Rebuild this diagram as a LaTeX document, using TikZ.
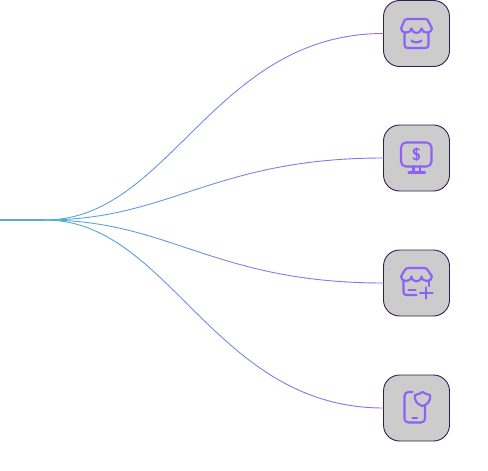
\documentclass[tikz,border=0pt]{standalone}
\usepackage{tikz}
\usetikzlibrary{calc, positioning}
\usepackage{xcolor}
\definecolor{linkA}{RGB}{84, 172, 216}
\definecolor{linkB}{RGB}{145, 112, 240}
\definecolor{iconC}{RGB}{139, 98, 245}
\definecolor{boxF}{RGB}{204, 204, 204}
\definecolor{boxD}{RGB}{48, 30, 84}

\tikzset{
  tilebox/.style={draw=boxD, fill=boxF, line width=0.9pt, rounded corners=16pt,
    minimum size=66pt, inner sep=0pt, outer sep=0pt},
  iconline/.style={draw=iconC, line width=2.1pt, line cap=round, line join=round},
}

\begin{document}
\begin{tikzpicture}[x=1pt, y=-1pt]
  \useasboundingbox (0,0) rectangle (488,471);

  % hub and tiles
  \coordinate (start) at (0,220);
  \coordinate (hub) at (45,220);
  \node[tilebox] (shop) at (416.5,33.5) {};
  \node[tilebox] (screen) at (416.5,158) {};
  \node[tilebox] (store) at (416.5,283) {};
  \node[tilebox] (phone) at (416.5,408) {};

  % links, blue to purple in vertical bands
  \draw[linkA, line width=1.5pt] (start) -- (hub);
  \foreach \t in {shop,screen,store,phone} {
    \foreach \b in {0,1,...,16} {
      \pgfmathsetmacro{\mixval}{min(100,\b*6.5)}
      \begin{scope}
        \clip (45+\b*20,0) rectangle (45.6+\b*20+20,471);
        \draw[linkB!\mixval!linkA, line width=0.9pt] (hub)
          .. controls ($(hub)+(125,0)$) and ($(\t.west)+(-170,0)$) .. (\t.west);
      \end{scope}
    }
  }

  % shop icon
  \begin{scope}[shift={(shop.center)}]
    \draw[iconline] (-9,-14.5) -- (8.5,-14.5)
      .. controls (10.5,-14.5) and (11.5,-13.5) .. (12,-12) -- (15.5,-5)
      .. controls (15.5,0) and (6,1) .. (5,-5)
      .. controls (4,1) and (-4,1) .. (-5,-5)
      .. controls (-6,1) and (-15.5,0) .. (-15.5,-5) -- (-12.5,-12)
      .. controls (-12,-13.5) and (-11,-14.5) .. (-9,-14.5) -- cycle;
    \draw[iconline] (-12,-1) -- (-12,11) .. controls (-12,13.5) and (-11,14.5) .. (-9,14.5)
      -- (9,14.5) .. controls (11,14.5) and (12,13.5) .. (12,11) -- (12,-1);
    \draw[iconline] (-5,7) .. controls (-3,9.5) and (3,9.5) .. (5,7);
  \end{scope}

  % screen icon
  \begin{scope}[shift={(screen.center)}]
    \draw[iconline, rounded corners=5pt] (-15.5,-15.5) rectangle (15,8.5);
    \draw[iconline] (-3,8.5) -- (-3,14.5) (3.5,8.5) -- (3.5,14.5) (-8,14.5) -- (8.5,14.5);
    \node[iconC, font=\fontsize{17}{17}\sffamily\bfseries, inner sep=0pt] (dollar) at (0,-3.5) {\$};
  \end{scope}

  % store icon
  \begin{scope}[shift={(store.center)}]
    \draw[iconline] (-8,-15) -- (7.5,-15)
      .. controls (9.5,-15) and (10.5,-14) .. (11.5,-12.5) -- (15.5,-6.5)
      .. controls (15.5,-1) and (6,0) .. (5,-6.5)
      .. controls (4,0) and (-4,0) .. (-5,-6.5)
      .. controls (-6,0) and (-15.5,-1) .. (-15.5,-6.5) -- (-12,-12.5)
      .. controls (-11,-14) and (-10,-15) .. (-8,-15) -- cycle;
    \draw[iconline] (-13,-2) -- (-13,9) .. controls (-13,11) and (-12,12) .. (-10,12) -- (0,12);
    \draw[iconline] (12.5,-2) -- (12.5,3);
    \draw[iconline] (-8,7) -- (-1,7);
    \draw[iconline] (3.5,10) -- (16,10) (9.5,4.5) -- (9.5,15.5);
  \end{scope}

  % phone icon
  \begin{scope}[shift={(phone.center)}]
    \draw[iconline] (-4,-16) -- (-8,-16) .. controls (-10.5,-16) and (-12,-14.5) .. (-12,-12)
      -- (-12,10.5) .. controls (-12,13) and (-10.5,14.5) .. (-8,14.5)
      -- (4.5,14.5) .. controls (7,14.5) and (8.5,13) .. (8.5,10.5) -- (8.5,-1.5);
    \draw[iconline] (-4,10) -- (0.5,10);
    \draw[iconline] (6,-16) .. controls (8,-14.5) and (11,-13.5) .. (13.5,-13)
      .. controls (14.5,-7) and (11,-3.5) .. (6,-2)
      .. controls (1,-3.5) and (-2.5,-7) .. (-1.5,-13)
      .. controls (1,-13.5) and (4,-14.5) .. (6,-16) -- cycle;
  \end{scope}
\end{tikzpicture}
\end{document}
